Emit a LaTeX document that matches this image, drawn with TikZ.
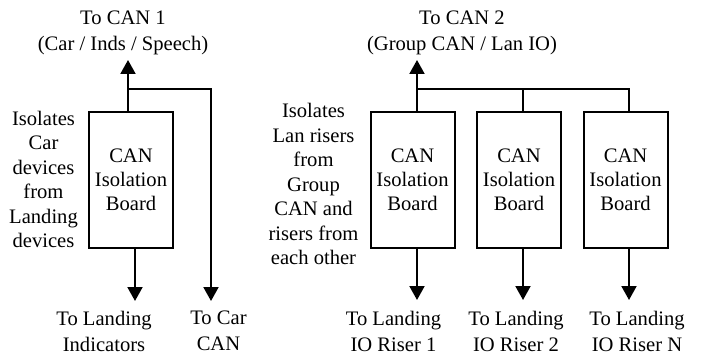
\documentclass[tikz,border=0pt]{standalone}
\usepackage{fontspec}
\setmainfont{Liberation Serif}
\usetikzlibrary{arrows.meta}

\begin{document}
\begin{tikzpicture}[x=1pt,y=-1pt,line width=2pt,
                    >={Triangle[length=14pt,width=15pt]},
                    board/.style={draw,minimum width=84pt,minimum height=136pt,inner sep=0pt,
                                  align=center,font=\fontsize{20.6}{24}\selectfont},
                    lbl/.style={align=center,inner sep=0pt,font=\fontsize{20.6}{26}\selectfont},
                    note/.style={align=center,inner sep=0pt,font=\fontsize{20.6}{24.5}\selectfont}]

\useasboundingbox (0,0) rectangle (704,358);

% car side
\node[board] (b0) at (131,180) {CAN\\Isolation\\Board};
\node[lbl] (can1) at (123,33) {To CAN 1\\(Car / Inds / Speech)};
\node[note] (n0) at (43.5,179.5) {Isolates\\Car\\devices\\from\\Landing\\devices};
\node[lbl] (ind) at (104,331) {To Landing\\Indicators};
\node[lbl] (car) at (218.5,331) {To Car\\CAN};

\coordinate (up1) at (128,60);
\coordinate (j1) at (128,89);
\coordinate (dn0) at (135,301);
\coordinate (carc) at (211,301);

\draw[->] ([xshift=-3pt]b0.north) -- (up1);
\draw[->] (j1) -| (carc);
\draw[->] ([xshift=4pt]b0.south) -- (dn0);

% group side
\node[board] (b1) at (412.5,180) {CAN\\Isolation\\Board};
\node[board] (b2) at (519,180) {CAN\\Isolation\\Board};
\node[board] (b3) at (625.5,180) {CAN\\Isolation\\Board};
\node[lbl] (can2) at (462,33) {To CAN 2\\(Group CAN / Lan IO)};
\node[note] (n1) at (313.5,184) {Isolates\\Lan risers\\from\\Group\\CAN and\\risers from\\each other};
\node[lbl] (r1) at (393.5,331) {To Landing\\IO Riser 1};
\node[lbl] (r2) at (516,331) {To Landing\\IO Riser 2};
\node[lbl] (rn) at (637,331) {To Landing\\IO Riser N};

\coordinate (up2) at (417,60);
\coordinate (j2) at (417,89);
\coordinate (dn1) at (417,300);
\coordinate (dn2) at (523,300);
\coordinate (dn3) at (629,300);

\draw[->] ([xshift=4.5pt]b1.north) -- (up2);
\draw ([xshift=4pt]b2.north) |- (j2);
\draw ([xshift=3.5pt]b3.north) |- (j2);
\draw[->] ([xshift=4.5pt]b1.south) -- (dn1);
\draw[->] ([xshift=4pt]b2.south) -- (dn2);
\draw[->] ([xshift=3.5pt]b3.south) -- (dn3);

\end{tikzpicture}
\end{document}
